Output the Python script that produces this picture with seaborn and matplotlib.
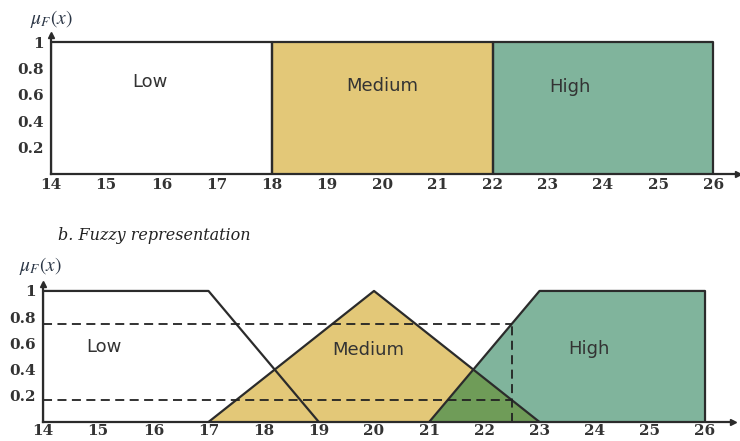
import numpy as np
import pandas as pd
import matplotlib.pyplot as plt
import seaborn as sns

# ------------------------------------------------------------
# Data
# ------------------------------------------------------------
x_ticks = list(range(14, 27))
y_ticks = [0.2, 0.4, 0.6, 0.8, 1]
y_tick_labels = ["0.2", "0.4", "0.6", "0.8", "1"]

# a. crisp sets (intervals)
crisp_sets = ["Low", "Medium", "High"]
crisp_start = [14, 18, 22]
crisp_end = [18, 22, 26]

# b. fuzzy sets (membership function corners)
low_x = [14, 14, 17, 19]
low_y = [0, 1, 1, 0]
medium_x = [17, 20, 23]
medium_y = [0, 1, 0]
high_x = [21, 23, 26, 26]
high_y = [0, 1, 1, 0]

cut_levels = [0.75, 0.17]
cut_x = 22.5

# ------------------------------------------------------------
# Style
# ------------------------------------------------------------
sns.set_style("white")
plt.rcParams["font.family"] = ["DejaVu Sans"]
plt.rcParams["mathtext.fontset"] = "stix"

colors = {"Low": "white", "Medium": "#E3C878", "High": "#80B49C"}
overlap_color = "#6F9C58"
edge = "#2b2b2b"
tick_font = dict(family="DejaVu Serif", weight="bold", size=11, color="#333333")


def style_axes(ax, xmax, xpad):
    ax.set_xlim(14, xmax)
    ax.set_ylim(0, 1.05)
    for s in ["top", "right"]:
        ax.spines[s].set_visible(False)
    for s in ["left", "bottom"]:
        ax.spines[s].set_color(edge)
        ax.spines[s].set_linewidth(1.6)
    ax.set_xticks(x_ticks)
    ax.set_xticklabels([str(t) for t in x_ticks], **tick_font)
    ax.set_yticks(y_ticks)
    ax.set_yticklabels(y_tick_labels, **tick_font)
    ax.tick_params(direction="in", length=9, width=1.6, color=edge, pad=5)
    ax.tick_params(axis="x", pad=xpad)
    # arrow heads
    ax.plot(1, 0, ">", color=edge, ms=5, transform=ax.transAxes, clip_on=False)
    ax.plot(0, 1, "^", color=edge, ms=4, transform=ax.transAxes, clip_on=False)
    ax.set_xlabel("")
    ax.set_ylabel("")
    ax.grid(False)


fig = plt.figure(figsize=(7.4, 4.41), dpi=100)

# ------------------------------------------------------------
# a. Crisp representation
# ------------------------------------------------------------
ax1 = fig.add_axes([0.0689, 0.6054, 0.9286, 0.3143])
for name, s, e in zip(crisp_sets, crisp_start, crisp_end):
    ax1.fill_between([s, e], 0, 1, color=colors[name], lw=0)
    rect = pd.DataFrame({"x": [s, s, e, e], "y": [0, 1, 1, 0]})
    sns.lineplot(data=rect, x="x", y="y", sort=False, estimator=None,
                 color=edge, lw=1.6, ax=ax1)
style_axes(ax1, 26.45, 3)

label_font = dict(size=13, color="#333333", ha="center", va="center")
ax1.text(15.8, 0.70, "Low", **label_font)
ax1.text(20.0, 0.67, "Medium", **label_font)
ax1.text(23.4, 0.66, "High", **label_font)
fig.text(0.07, 0.958, r"$\mu_F(x)$", ha="center", va="center", size=14, color="#2a3545")

# ------------------------------------------------------------
# b. Fuzzy representation
# ------------------------------------------------------------
ax2 = fig.add_axes([0.0581, 0.0431, 0.9319, 0.312])
ax2.fill(low_x, low_y, color=colors["Low"], lw=0)
ax2.fill(medium_x, medium_y, color=colors["Medium"], lw=0)
ax2.fill(high_x, high_y, color=colors["High"], lw=0)

grid = np.linspace(min(high_x), max(medium_x), 401)
overlap = np.minimum(np.interp(grid, medium_x, medium_y), np.interp(grid, high_x, high_y))
ax2.fill_between(grid, 0, overlap, color=overlap_color, lw=0)

for xs, ys in [(low_x, low_y), (medium_x, medium_y), (high_x, high_y)]:
    df = pd.DataFrame({"x": xs, "y": ys})
    sns.lineplot(data=df, x="x", y="y", sort=False, estimator=None,
                 color=edge, lw=1.6, ax=ax2)

ax2.hlines(cut_levels, 14, cut_x, colors="#222222", linestyles=(0, (5, 3)), lw=1.3)
ax2.vlines(cut_x, 0, max(cut_levels), colors="#222222", linestyles=(0, (5, 3)), lw=1.3)
style_axes(ax2, 26.5, 1.5)

ax2.text(15.1, 0.57, "Low", **label_font)
ax2.text(19.9, 0.55, "Medium", **label_font)
ax2.text(23.9, 0.56, "High", **label_font)
fig.text(0.055, 0.397, r"$\mu_F(x)$", ha="center", va="center", size=14, color="#2a3545")
fig.text(0.079, 0.465, "b. Fuzzy representation", family="DejaVu Serif",
         style="italic", size=11.5, color="#222222", ha="left", va="center")

fig.savefig("out.png", dpi=100)
